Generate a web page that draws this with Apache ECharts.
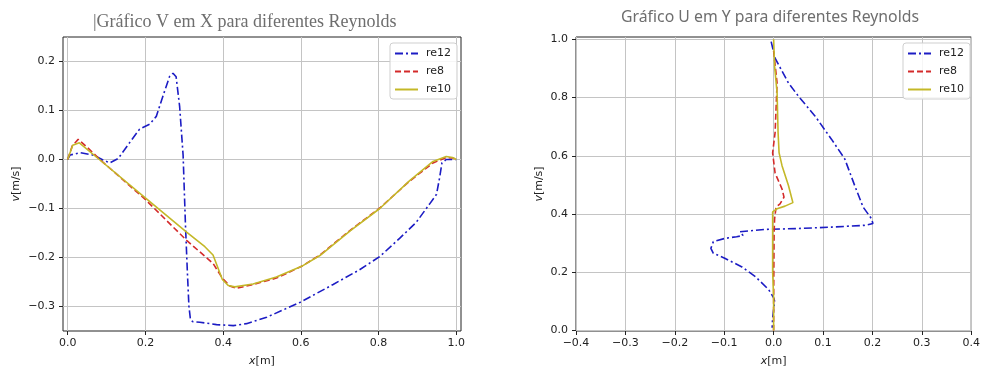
<!DOCTYPE html>
<html>
<head>
<meta charset="utf-8">
<script src="https://cdn.jsdelivr.net/npm/echarts@6/dist/echarts.min.js"></script>
<style>
  html, body { margin: 0; padding: 0; background: #fff; }
  #main { width: 983px; height: 372px; }
</style>
</head>
<body>
<div id="main"></div>
<script>
// Gráfico V em X
const vxX12 = [0, 0.006, 0.032, 0.066, 0.091, 0.108, 0.13, 0.16, 0.185, 0.211, 0.228, 0.245, 0.262, 0.271, 0.279, 0.288, 0.297, 0.303, 0.308, 0.312, 0.316, 0.322, 0.34, 0.383, 0.426, 0.46, 0.512, 0.597, 0.683, 0.751, 0.803, 0.854, 0.897, 0.931, 0.949, 0.957, 0.963, 0.974, 1.0];
const vxV12 = [0, 0.009, 0.014, 0.009, -0.001, -0.007, 0.002, 0.035, 0.062, 0.072, 0.088, 0.129, 0.169, 0.176, 0.169, 0.109, 0.009, -0.132, -0.23, -0.3, -0.327, -0.331, -0.332, -0.337, -0.339, -0.335, -0.322, -0.292, -0.255, -0.225, -0.198, -0.161, -0.128, -0.091, -0.071, -0.037, -0.007, 0, 0];
const vxX8 = [0, 0.012, 0.027, 0.05, 0.083, 0.199, 0.306, 0.374, 0.398, 0.417, 0.434, 0.477, 0.537, 0.602, 0.649, 0.726, 0.803, 0.88, 0.94, 0.974, 0.991, 1.0];
const vxV8 = [0, 0.028, 0.041, 0.025, 0.0, -0.081, -0.165, -0.212, -0.242, -0.258, -0.263, -0.255, -0.242, -0.218, -0.195, -0.145, -0.099, -0.044, -0.007, 0.004, 0.003, 0];
const vxX10 = [0, 0.013, 0.03, 0.083, 0.199, 0.306, 0.353, 0.374, 0.387, 0.398, 0.413, 0.43, 0.477, 0.537, 0.602, 0.649, 0.726, 0.803, 0.88, 0.94, 0.974, 0.99, 1.0];
const vxV10 = [0, 0.029, 0.034, -0.001, -0.078, -0.148, -0.178, -0.195, -0.222, -0.245, -0.257, -0.26, -0.254, -0.24, -0.218, -0.196, -0.146, -0.1, -0.043, -0.004, 0.006, 0.004, 0];

// Gráfico U em Y
const uyU12 = [-0.005, 0.003, 0.03, 0.05, 0.084, 0.117, 0.144, 0.164, 0.181, 0.198, 0.201, 0.184, 0.117, 0.05, -0.017, -0.068, -0.062, -0.075, -0.099, -0.122, -0.127, -0.122, -0.099, -0.065, -0.037, -0.01, 0.0, 0.002, -0.002, -0.003];
const uyY12 = [0.992, 0.935, 0.85, 0.805, 0.736, 0.657, 0.589, 0.498, 0.424, 0.384, 0.367, 0.361, 0.355, 0.35, 0.347, 0.339, 0.326, 0.322, 0.316, 0.305, 0.282, 0.265, 0.248, 0.219, 0.185, 0.14, 0.112, 0.1, 0.043, 0.009];
const uyU8 = [0.0, 0.007, 0.003, -0.002, 0.003, 0.017, 0.021, 0.013, 0.005, 0.002, 0.001, 0, 0];
const uyY8 = [0.96, 0.85, 0.68, 0.61, 0.54, 0.486, 0.458, 0.435, 0.424, 0.384, 0.339, 0.1, 0];
const uyU10 = [0, 0.002, 0.007, 0.009, 0.011, 0.017, 0.03, 0.039, 0.023, 0.007, -0.002, -0.002, -0.002, 0, 0];
const uyY10 = [1.0, 0.907, 0.816, 0.68, 0.611, 0.566, 0.498, 0.439, 0.427, 0.418, 0.407, 0.339, 0.202, 0.111, 0];

const ticksX1 = [0, 0.2, 0.4, 0.6, 0.8, 1.0];
const ticksY1 = [-0.3, -0.2, -0.1, 0, 0.1, 0.2];
const ticksX2 = [-0.4, -0.3, -0.2, -0.1, 0, 0.1, 0.2, 0.3, 0.4];
const ticksY2 = [0, 0.2, 0.4, 0.6, 0.8, 1.0];

const names = ['re12', 're8', 're10'];
const colors = ['#1c1cc4', '#d42a2a', '#c4b828'];
const dashes = [[8, 3, 2, 3], [6, 3], 'solid'];

function zip(a, b) { return a.map((v, i) => [v, b[i]]); }
function fmt(v) {
  if (Math.abs(v) < 1e-9) return '0.0';
  return (v < 0 ? '\u2212' : '') + Math.abs(v).toFixed(1);
}

const tickFont = { fontFamily: 'DejaVu Sans', fontSize: 11, color: '#222' };
const nameStyle = { fontFamily: 'DejaVu Sans', fontSize: 11, color: '#222',
  rich: { i: { fontFamily: 'DejaVu Sans', fontStyle: 'italic', fontSize: 11, color: '#222' } } };

function xAxis(gi, min, max, ticks) {
  return {
    type: 'value', gridIndex: gi, min: min, max: max,
    name: '{i|x}[m]', nameLocation: 'middle', nameGap: 25, nameTextStyle: nameStyle,
    axisLine: { show: false, onZero: false },
    axisTick: { show: true, length: 4, lineStyle: { color: '#222' }, customValues: ticks },
    axisLabel: Object.assign({ margin: 7, formatter: fmt, customValues: ticks }, tickFont),
    splitLine: { show: true, lineStyle: { color: '#c4c4c4', width: 1 } }
  };
}
function yAxis(gi, min, max, ticks, gap) {
  return {
    type: 'value', gridIndex: gi, min: min, max: max,
    name: '{i|v}[m/s]', nameLocation: 'middle', nameGap: gap, nameRotate: 90, nameTextStyle: nameStyle,
    axisLine: { show: false, onZero: false },
    axisTick: { show: true, length: 4, lineStyle: { color: '#222' }, customValues: ticks },
    axisLabel: Object.assign({ margin: 8, formatter: fmt, customValues: ticks }, tickFont),
    splitLine: { show: true, lineStyle: { color: '#c4c4c4', width: 1 } }
  };
}

function line(i, gi, data) {
  return {
    name: names[i], type: 'line', xAxisIndex: gi, yAxisIndex: gi,
    data: data, symbol: 'none', smooth: false, animation: false,
    lineStyle: { color: colors[i], width: 1.6, type: dashes[i] },
    itemStyle: { color: colors[i] }
  };
}

function legend(left) {
  return {
    data: names, orient: 'vertical', left: left, top: 43,
    itemWidth: 23, itemHeight: 10, itemGap: 7,
    padding: [5, 6, 4, 4],
    itemStyle: { opacity: 0 },
    borderColor: '#cfcfcf', borderWidth: 1, borderRadius: 3,
    backgroundColor: 'rgba(255,255,255,0.85)',
    textStyle: { fontFamily: 'DejaVu Sans', fontSize: 11, color: '#222', padding: [0, 0, 0, 3] }
  };
}

const chart = echarts.init(document.getElementById('main'));
chart.setOption({
  backgroundColor: '#fff',
  animation: false,
  title: [
    { text: '|Gráfico V em X para diferentes Reynolds', left: 88, top: 8,
      textStyle: { fontFamily: 'Liberation Serif', fontSize: 18, fontWeight: 'normal', color: '#6e6e6e' } },
    { text: 'Gráfico U em Y para diferentes Reynolds', left: 616, top: 4,
      textStyle: { fontFamily: 'Noto Sans', fontSize: 15.8, fontWeight: 'normal', color: '#6e6e6e' } }
  ],
  legend: [legend(390), legend(903)],
  grid: [
    { left: 63, top: 37, width: 398, height: 298, show: true, borderColor: '#222', borderWidth: 1, containLabel: false },
    { left: 576, top: 37, width: 398, height: 296, show: true, borderColor: '#222', borderWidth: 1, containLabel: false }
  ],
  xAxis: [xAxis(0, -0.012, 1.012, ticksX1), xAxis(1, -0.4, 0.4, ticksX2)],
  yAxis: [yAxis(0, -0.35, 0.25, ticksY1, 41), yAxis(1, -0.002, 1.008, ticksY2, 31)],
  series: [
    line(0, 0, zip(vxX12, vxV12)),
    line(1, 0, zip(vxX8, vxV8)),
    line(2, 0, zip(vxX10, vxV10)),
    line(0, 1, zip(uyU12, uyY12)),
    line(1, 1, zip(uyU8, uyY8)),
    line(2, 1, zip(uyU10, uyY10))
  ]
});
</script>
</body>
</html>
